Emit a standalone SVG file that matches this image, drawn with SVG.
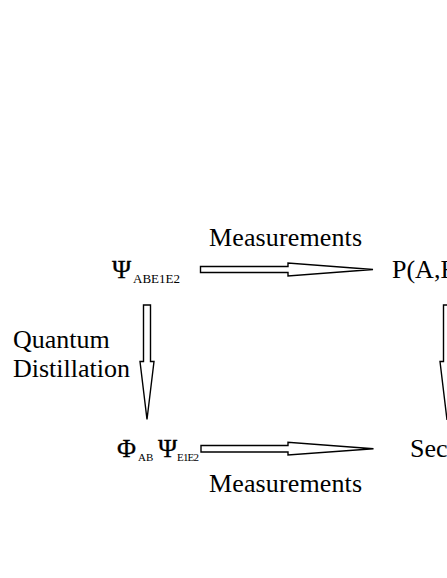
<svg xmlns="http://www.w3.org/2000/svg" width="447" height="578" viewBox="0 0 447 578">
<style>
text { font-family: "Liberation Serif", "Times New Roman", serif; fill: #000; }
.lbl { font-size: 26px; }
.sym { font-size: 26px; stroke: #000; stroke-width: 0.3; }
.sub { font-size: 13px; }
.subs { font-size: 11px; }
.arrow { fill: #fff; stroke: #000; stroke-width: 1.4; stroke-linejoin: miter; }
</style>
<rect width="447" height="578" fill="#fff"/>
<g id="connectors">
  <polygon class="arrow" points="200.5,266.5 288,266.5 288,263 373,269.5 288,276 288,272.5 200.5,272.5"/>
  <polygon class="arrow" points="201,445.5 288,445.5 288,442.3 373.5,448.7 288,455 288,452 201,452"/>
  <polygon class="arrow" points="143.5,305 150.5,305 150.5,361.5 154,361.5 147,419.5 140,361.5 143.5,361.5"/>
  <polygon class="arrow" points="443.5,305 450.5,305 450.5,361.5 454,361.5 447,420 440,361.5 443.5,361.5"/>
</g>
<g id="label-measurements-top"><text class="lbl" x="209" y="246" textLength="153">Measurements</text></g>
<g id="label-measurements-bottom"><text class="lbl" x="209" y="492" textLength="153">Measurements</text></g>
<g id="label-distillation">
  <text class="lbl" x="13" y="348">Quantum</text>
  <text class="lbl" x="13" y="377">Distillation</text>
</g>
<g id="node-psi">
  <text class="sym" x="112" y="278">Ψ</text>
  <text class="sub" x="133" y="282.7">ABE1E2</text>
</g>
<g id="node-p">
  <text class="lbl" x="392" y="278">P(A,B</text>
</g>
<g id="node-phi-psi">
  <text class="sym" x="117" y="457">Φ</text>
  <text class="subs" x="138" y="461">AB</text>
  <text class="sym" x="158" y="457">Ψ</text>
  <text class="subs" x="177" y="461" textLength="22">E1E2</text>
</g>
<g id="node-secret">
  <text class="lbl" x="410" y="457">Sec</text>
</g>
</svg>
